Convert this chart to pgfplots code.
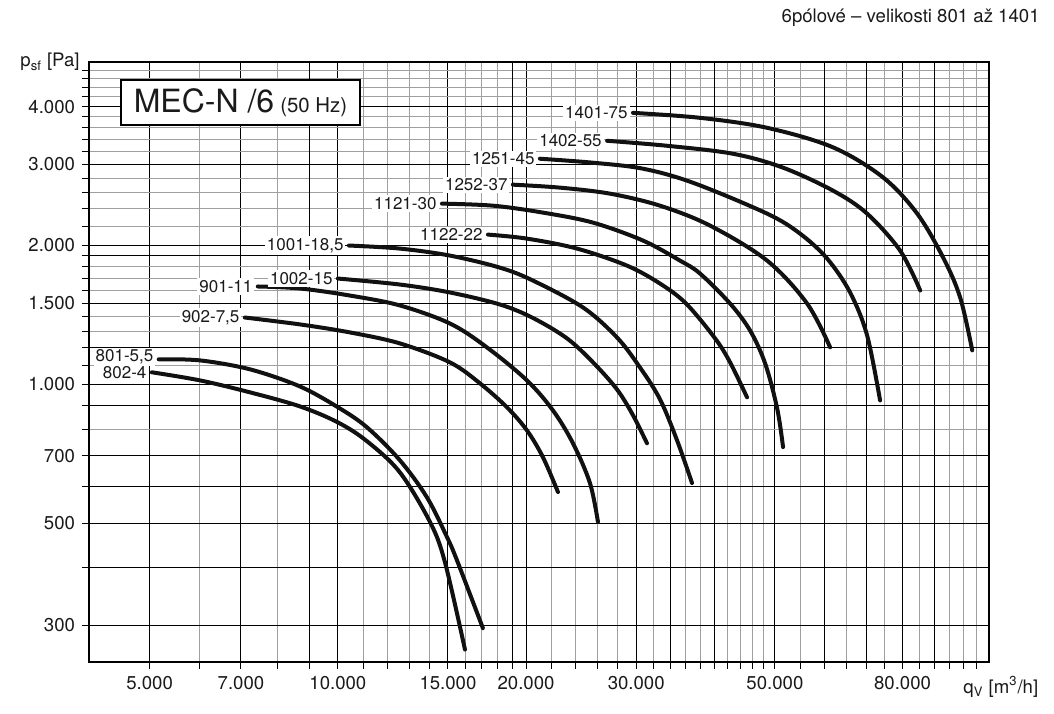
\documentclass[border=0pt]{standalone}
\usepackage{pgfplots}
\pgfplotsset{compat=1.18}
\usepackage{fontspec}
\setmainfont{TeX Gyre Heros}
\definecolor{txt}{HTML}{1A1A1A}
\definecolor{gridlight}{HTML}{A0A0A0}
\definecolor{curve}{HTML}{111111}

\begin{document}
\begin{tikzpicture}[x=1pt,y=1pt,
  lbl/.style={anchor=east, fill=white, inner sep=1pt, xshift=-1.5pt,
    font=\fontsize{8.5}{9}\selectfont, text=txt},
  fan/.style={curve, line width=2pt, line cap=round, line join=round, smooth, tension=0.55, mark=none}]
\begin{axis}[
  at={(0,0)}, anchor=south west,
  scale only axis, width=450pt, height=300pt,
  xmode=log, ymode=log,
  xmin=4000, xmax=110000, ymin=250, ymax=5000,
  xtick={5000,7000,10000,15000,20000,30000,50000,80000},
  xticklabels={5.000,7.000,10.000,15.000,20.000,30.000,50.000,80.000},
  ytick={300,500,700,1000,1500,2000,3000,4000},
  yticklabels={300,500,700,1.000,1.500,2.000,3.000,4.000},
  minor xtick={6000,8000,11000,12000,13000,14000,16000,17000,18000,22000,24000,26000,28000,32000,36000,38000,42000,44000,46000,48000,55000,65000,75000,85000,95000,100000,105000},
  minor ytick={800,1100,1300,1400,1600,1700,1800,2200,2400,2600,2800,3200,3400,3600,3800,4200,4400,4600,4800},
  extra x ticks={9000,19000,34000,40000,60000,70000,90000},
  extra x tick labels={,,,,,,},
  extra y ticks={400,600,900,1200,1900},
  extra y tick labels={,,,,},
  extra tick style={grid=major},
  grid=both,
  major grid style={black, line width=0.5pt},
  minor grid style={gridlight, line width=0.5pt},
  tick align=outside, tick pos=left,
  major tick length=3.5pt, minor tick length=3.5pt,
  every tick/.style={black, line width=0.5pt},
  axis line style={black, line width=0.8pt},
  ticklabel style={font=\fontsize{9.3}{10}\selectfont, text=txt},
]
% 801-5,5
\addplot[fan] coordinates {(5170,1133) (6016,1127) (7232,1078) (8690,990) (10000,892) (11130,807) (12560,685) (13880,569) (14940,467) (15500,416) (17060,296)};
% 802-4
\addplot[fan] coordinates {(5040,1062) (6016,1020) (7232,961) (8690,896) (10000,827) (11130,753) (12560,645) (14040,503) (14830,412) (15970,266)};
% 902-7,5
\addplot[fan] coordinates {(7099,1396) (8690,1349) (10452,1296) (12560,1227) (15110,1116) (16875,1005) (18637,892) (20060,795) (21280,695) (22490,584)};
% 901-11
\addplot[fan] coordinates {(7447,1630) (8690,1614) (10452,1558) (12560,1483) (15110,1355) (17310,1203) (20060,1020) (22080,878) (23770,745) (25300,611) (26060,503)};
% 1002-15
\addplot[fan] coordinates {(10000,1696) (12560,1646) (15110,1582) (18160,1490) (20510,1393) (23250,1258) (25590,1116) (27950,975) (29650,857) (31220,745)};
% 1001-18,5
\addplot[fan] coordinates {(10414,2000) (12560,1970) (15110,1902) (18160,1791) (20510,1679) (24660,1468) (27950,1264) (30420,1088) (32750,928) (34860,757) (36850,611)};
% 1122-22
\addplot[fan] coordinates {(17380,2112) (20060,2070) (24120,1970) (29000,1809) (32750,1654) (36050,1497) (40110,1258) (42390,1116) (45120,937)};
% 1121-30
\addplot[fan] coordinates {(14670,2465) (17700,2440) (21280,2357) (25590,2242) (30760,2050) (35250,1855) (37950,1739) (42390,1497) (45620,1309) (48230,1110) (50410,887) (51520,731)};
% 1252-37
\addplot[fan] coordinates {(19050,2710) (22660,2670) (27240,2591) (32750,2440) (39380,2209) (48580,1855) (56290,1497) (61270,1203)};
% 1251-45
\addplot[fan] coordinates {(21040,3085) (25590,3024) (30760,2935) (36980,2736) (48580,2345) (54850,2122) (60600,1874) (65950,1582) (70210,1277) (73650,923)};
% 1402-55
\addplot[fan] coordinates {(26950,3374) (33610,3291) (42860,3162) (51520,2950) (61940,2630) (70210,2345) (79300,1950) (85370,1598)};
% 1401-75
\addplot[fan] coordinates {(29650,3879) (37950,3784) (48580,3600) (61940,3265) (74470,2810) (84430,2345) (92900,1883) (98900,1543) (103400,1185)};

\node[lbl] at (axis cs:5170,1145) {801-5,5};
\node[lbl] at (axis cs:5040,1062) {802-4};
\node[lbl] at (axis cs:7099,1396) {902-7,5};
\node[lbl] at (axis cs:7447,1630) {901-11};
\node[lbl] at (axis cs:10000,1696) {1002-15};
\node[lbl] at (axis cs:10414,2000) {1001-18,5};
\node[lbl] at (axis cs:17380,2112) {1122-22};
\node[lbl] at (axis cs:14670,2465) {1121-30};
\node[lbl] at (axis cs:19050,2710) {1252-37};
\node[lbl] at (axis cs:21040,3085) {1251-45};
\node[lbl] at (axis cs:26950,3374) {1402-55};
\node[lbl] at (axis cs:29650,3879) {1401-75};
\end{axis}

\node[draw=black, line width=0.8pt, fill=white, minimum width=119.5pt, minimum height=22.5pt, inner sep=0pt, text=txt]
  at (75.75,279.75) {{\fontsize{16}{16}\selectfont MEC-N /6}\hspace{3pt}{\fontsize{10.2}{11}\selectfont (50 Hz)}};
\node[anchor=base east, inner sep=0pt, text=txt, font=\fontsize{9.3}{10}\selectfont] at (-4.5,297.5) {p\textsubscript{sf} [Pa]};
\node[anchor=base west, inner sep=0pt, text=txt, font=\fontsize{9.3}{10}\selectfont] at (437,-15.5) {q\textsubscript{V} [m\textsuperscript{3}/h]};
\node[anchor=base east, inner sep=0pt, text=txt, font=\fontsize{9.3}{10}\selectfont] at (475.5,319.5) {6pólové – velikosti 801 až 1401};

\pgfresetboundingbox
\path[use as bounding box] (-44.5,-25.5) rectangle (482.5,331);
\end{tikzpicture}
\end{document}
